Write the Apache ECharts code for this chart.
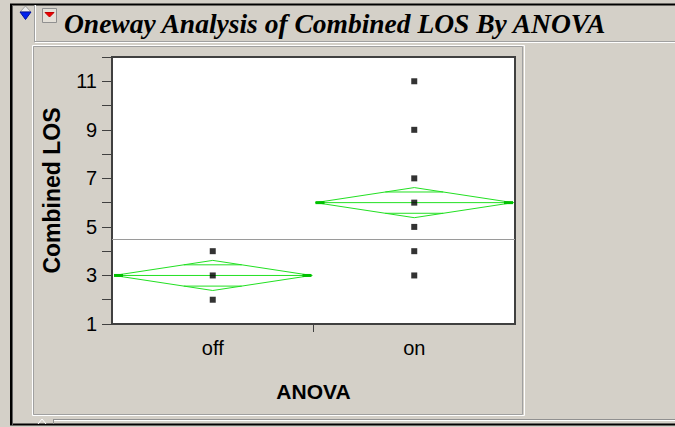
<!DOCTYPE html>
<html>
<head>
<meta charset="utf-8">
<script src="https://cdn.jsdelivr.net/npm/echarts@6/dist/echarts.min.js"></script>
<style>
html,body{margin:0;padding:0;background:#D4D0C8;}
#chart{width:675px;height:427px;}
</style>
</head>
<body>
<div id="chart"></div>
<script>
// ---- data ----
const categories = ['off', 'on'];
const offValues = [4, 3, 2];
const onValues = [11, 9, 7, 6, 5, 4, 3];
const groupMeans = [3, 6];
const ciHalfWidths = [0.62, 0.62];
const grandMean = 4.5;
const yTickLabels = ['1', '3', '5', '7', '9', '11'];
const titleText = 'Oneway Analysis of Combined LOS By ANOVA';
const yName = 'Combined LOS';
const xName = 'ANOVA';

const GREEN = '#22e022';
const GREEN_DARK = '#00c000';
const labelFont = '"Liberation Sans", Arial, sans-serif';

const pointData = [
  ...offValues.map(v => [categories[0], v]),
  ...onValues.map(v => [categories[1], v])
];
const diamondData = categories.map((c, i) => [i, groupMeans[i], ciHalfWidths[i]]);

function renderDiamond(params, api) {
  const idx = api.value(0), m = api.value(1), ci = api.value(2);
  const c = api.coord([idx, m]);
  const t = api.coord([idx, m + ci]);
  const b = api.coord([idx, m - ci]);
  const half = api.size([1, 0])[0] / 2 - 2;
  const o = ci / Math.SQRT2;
  const ot = api.coord([idx, m + o])[1];
  const ob = api.coord([idx, m - o])[1];
  const ow = half * (1 - 1 / Math.SQRT2);
  const ls = {stroke: GREEN, lineWidth: 1, fill: null};
  return {
    type: 'group',
    children: [
      {type: 'polygon', shape: {points: [[c[0] - half, c[1]], [c[0], t[1]], [c[0] + half, c[1]], [c[0], b[1]]]}, style: ls},
      {type: 'line', shape: {x1: c[0] - half, y1: c[1], x2: c[0] + half + 1, y2: c[1]}, style: ls},
      {type: 'line', shape: {x1: c[0] - ow, y1: ot, x2: c[0] + ow, y2: ot}, style: ls},
      {type: 'line', shape: {x1: c[0] - ow, y1: ob, x2: c[0] + ow, y2: ob}, style: ls},
      {type: 'line', shape: {x1: c[0] - half, y1: c[1], x2: c[0] - half + 9, y2: c[1]}, style: {stroke: GREEN_DARK, lineWidth: 3}},
      {type: 'line', shape: {x1: c[0] + half - 9, y1: c[1], x2: c[0] + half, y2: c[1]}, style: {stroke: GREEN_DARK, lineWidth: 3}}
    ]
  };
}

const chart = echarts.init(document.getElementById('chart'), null, {renderer: 'svg'});
chart.setOption({
  backgroundColor: '#D4D0C8',
  animation: false,
  grid: {left: 112, top: 57, right: 160, bottom: 103, show: true, backgroundColor: '#ffffff', borderColor: '#404040', borderWidth: 2},
  xAxis: [{
    type: 'category', data: categories, boundaryGap: true,
    name: xName, nameLocation: 'middle', nameGap: 57,
    nameTextStyle: {fontFamily: labelFont, fontSize: 21, fontWeight: 'bold', color: '#000'},
    axisLine: {lineStyle: {color: '#404040', width: 2}},
    axisTick: {show: false},
    axisLabel: {fontFamily: labelFont, fontSize: 20, color: '#000', margin: 14}
  }, {
    type: 'value', min: 0, max: 2, interval: 1, position: 'bottom',
    axisLine: {show: false}, axisLabel: {show: false}, splitLine: {show: false},
    axisTick: {show: true, length: 8, customValues: [1], lineStyle: {color: '#404040', width: 1}}
  }],
  yAxis: {
    type: 'value', min: 1, max: 12, interval: 1,
    name: yName, nameLocation: 'middle', nameGap: 49,
    nameTextStyle: {fontFamily: labelFont, fontSize: 23, fontWeight: 'bold', color: '#000'},
    axisLine: {show: true, lineStyle: {color: '#404040', width: 2}},
    axisTick: {show: true, length: 10, lineStyle: {color: '#404040', width: 1}},
    axisLabel: {fontFamily: labelFont, fontSize: 20, color: '#000', margin: 15,
      formatter: v => yTickLabels.includes(String(v)) ? String(v) : ''},
    splitLine: {show: false}
  },
  series: [{
    type: 'custom', xAxisIndex: 0, renderItem: renderDiamond, data: diamondData,
    encode: {x: 0, y: 1}, silent: true, z: 2
  }, {
    type: 'scatter', xAxisIndex: 0, data: pointData, symbol: 'rect', symbolSize: 6,
    itemStyle: {color: '#000'}, silent: true, z: 3,
    markLine: {silent: true, symbol: 'none', label: {show: false},
      lineStyle: {color: '#9a9a9a', width: 1, type: 'solid'},
      data: [{yAxis: grandMean}]}
  }],
  graphic: [
    // window frame
    {type: 'rect', shape: {x: 11, y: 4.5, width: 680, height: 420}, style: {fill: null, stroke: '#000', lineWidth: 2}, z: 10},
    {type: 'line', shape: {x1: 12.5, y1: 5, x2: 12.5, y2: 425}, style: {stroke: '#606060', lineWidth: 1}, z: 10},
    // title bar
    {type: 'line', shape: {x1: 35.5, y1: 5, x2: 35.5, y2: 42}, style: {stroke: '#ffffff', lineWidth: 1}, z: 10},
    {type: 'line', shape: {x1: 34.5, y1: 5, x2: 34.5, y2: 42}, style: {stroke: '#a0a0a0', lineWidth: 1}, z: 10},
    {type: 'line', shape: {x1: 35, y1: 41.5, x2: 676, y2: 41.5}, style: {stroke: '#a0a0a0', lineWidth: 1}, z: 10},
    {type: 'line', shape: {x1: 35, y1: 42.5, x2: 676, y2: 42.5}, style: {stroke: '#ffffff', lineWidth: 1}, z: 10},
    // disclosure icons
    {type: 'polygon', shape: {points: [[20, 12], [31, 12], [25.5, 6]]}, style: {fill: '#ececec', stroke: '#a0a0a0', lineWidth: 1}, z: 10},
    {type: 'polygon', shape: {points: [[20, 12], [31, 12], [25.5, 19.5]]}, style: {fill: '#0022ee', stroke: '#0010a0', lineWidth: 1}, z: 10},
    {type: 'rect', shape: {x: 42.5, y: 8.5, width: 14, height: 14}, style: {fill: '#e4e0d8', stroke: '#909090', lineWidth: 1}, z: 10},
    {type: 'polygon', shape: {points: [[45, 12.5], [54, 12.5], [49.5, 17]]}, style: {fill: '#ee0000', stroke: '#c00000', lineWidth: 1}, z: 10},
    {type: 'text', style: {x: 64, y: 23.5, text: titleText, font: 'italic bold 27.5px "Liberation Serif", "Times New Roman", serif', fill: '#000', verticalAlign: 'middle'}, z: 10},
    // inner panel
    {type: 'rect', shape: {x: 33.5, y: 46.5, width: 489, height: 368}, style: {fill: null, stroke: '#a0a0a0', lineWidth: 1}, z: 10},
    {type: 'rect', shape: {x: 32.5, y: 45.5, width: 492, height: 370}, style: {fill: null, stroke: '#ffffff', lineWidth: 1}, z: 10},
    // bottom strip
    {type: 'line', shape: {x1: 53, y1: 419.5, x2: 676, y2: 419.5}, style: {stroke: '#909090', lineWidth: 1}, z: 10},
    {type: 'line', shape: {x1: 54, y1: 420.5, x2: 676, y2: 420.5}, style: {stroke: '#ffffff', lineWidth: 1}, z: 10},
    {type: 'line', shape: {x1: 53.5, y1: 419, x2: 53.5, y2: 424}, style: {stroke: '#909090', lineWidth: 1}, z: 10},
    {type: 'polyline', shape: {points: [[38, 424], [42, 419], [46, 424]]}, style: {fill: null, stroke: '#ffffff', lineWidth: 1}, z: 10}
  ]
});
</script>
</body>
</html>
